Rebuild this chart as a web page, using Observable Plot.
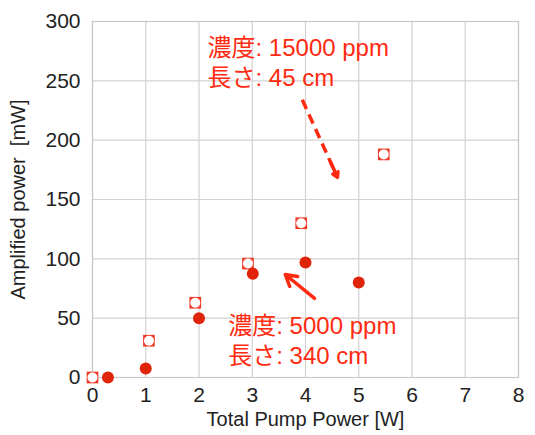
<!DOCTYPE html>
<html><head><meta charset="utf-8">
<script src="https://cdn.jsdelivr.net/npm/d3@7"></script>
<script src="https://cdn.jsdelivr.net/npm/@observablehq/plot@0.6"></script>
<style>html,body{margin:0;padding:0;background:#fff}</style>
</head><body><div id="chart"></div>
<script>
const xTicks = [0, 1, 2, 3, 4, 5, 6, 7, 8];
const yTicks = [0, 50, 100, 150, 200, 250, 300];
// 15000 ppm, 45 cm (open squares)
const highX = [0, 1.06, 1.93, 2.92, 3.92, 5.47];
const highY = [0, 31, 63, 96, 130, 188];
// 5000 ppm, 340 cm (filled circles)
const lowX = [0.29, 1.0, 2.0, 3.01, 4.0, 5.0];
const lowY = [0, 7.5, 50, 87.5, 97, 80];
const xLabel = "Total Pump Power [W]";
const yLabel = "Amplified power  [mW]";
const noteText = ["濃度: 15000 ppm\n長さ: 45 cm", "濃度: 5000 ppm\n長さ: 340 cm"];
const noteX = [2.16, 2.55];
const noteY = [246, 11];
const arrowX1 = [3.94, 4.17];
const arrowY1 = [234, 66.6];
const arrowX2 = [4.60, 3.62];
const arrowY2 = [168.7, 86.8];
const arrowDashed = [true, false];

const dotRed = "#e0240a";
const textRed = "#ff2a10";
const sqRed = "#f03a26";

const high = highX.map((x, i) => ({x, y: highY[i]}));
const low = lowX.map((x, i) => ({x, y: lowY[i]}));
const notes = noteText.map((t, i) => ({t, x: noteX[i], y: noteY[i]}));
const arrows = arrowX1.map((x1, i) => ({x1, y1: arrowY1[i], x2: arrowX2[i], y2: arrowY2[i], dashed: arrowDashed[i]}));
const dashed = arrows.filter(d => d.dashed);
// solid head segment for the dashed arrow (last part of the same line)
const heads = arrows.map(d => d.dashed
  ? {x1: d.x1 + (d.x2 - d.x1) * 0.8, y1: d.y1 + (d.y2 - d.y1) * 0.8, x2: d.x2, y2: d.y2}
  : d);

const plot = Plot.plot({
  width: 535, height: 435,
  marginLeft: 92, marginRight: 17, marginTop: 21, marginBottom: 58,
  style: {fontFamily: "'Liberation Sans', Arial, 'Noto Sans CJK JP', sans-serif", fontSize: "21px", color: "#222", background: "#fff"},
  x: {domain: [0, 8], ticks: xTicks},
  y: {domain: [0, 300], ticks: yTicks},
  marks: [
    Plot.gridX(xTicks, {stroke: "#d2d2d2", strokeOpacity: 1, strokeWidth: 1.2}),
    Plot.gridY(yTicks, {stroke: "#d2d2d2", strokeOpacity: 1, strokeWidth: 1.2}),
    Plot.frame({stroke: "#c8c8c8", strokeWidth: 1.2}),
    Plot.axisX(xTicks, {tickSize: 0, tickPadding: 10, fontSize: 21, label: null}),
    Plot.axisY(yTicks, {tickSize: 0, tickPadding: 12, fontSize: 21, label: null}),
    Plot.text([xLabel], {text: d => d, frameAnchor: "bottom", dy: 48, textAnchor: "middle", lineAnchor: "bottom", fontSize: 20, fill: "#222"}),
    Plot.text([yLabel], {text: d => d, frameAnchor: "left", dx: -82, rotate: -90, textAnchor: "middle", lineAnchor: "top", fontSize: 20, fill: "#222"}),
    Plot.dot(high, {x: "x", y: "y", symbol: "square", r: 6.6, fill: sqRed, stroke: "none"}),
    Plot.dot(high, {x: "x", y: "y", r: 5, fill: "white", stroke: "none"}),
    Plot.dot(low, {x: "x", y: "y", r: 6, fill: dotRed, stroke: "none"}),
    Plot.link(dashed, {x1: "x1", y1: "y1", x2: "x2", y2: "y2", stroke: textRed, strokeWidth: 3.5, strokeDasharray: "10,6"}),
    Plot.arrow(heads, {x1: "x1", y1: "y1", x2: "x2", y2: "y2", stroke: textRed, strokeWidth: 3.5, headLength: 16, headAngle: 60}),
    Plot.text(notes, {x: "x", y: "y", text: "t", textAnchor: "start", lineAnchor: "bottom", lineHeight: 1.25, fontSize: 24, fill: textRed})
  ]
});
document.getElementById("chart").appendChild(plot);
</script>
</body></html>
